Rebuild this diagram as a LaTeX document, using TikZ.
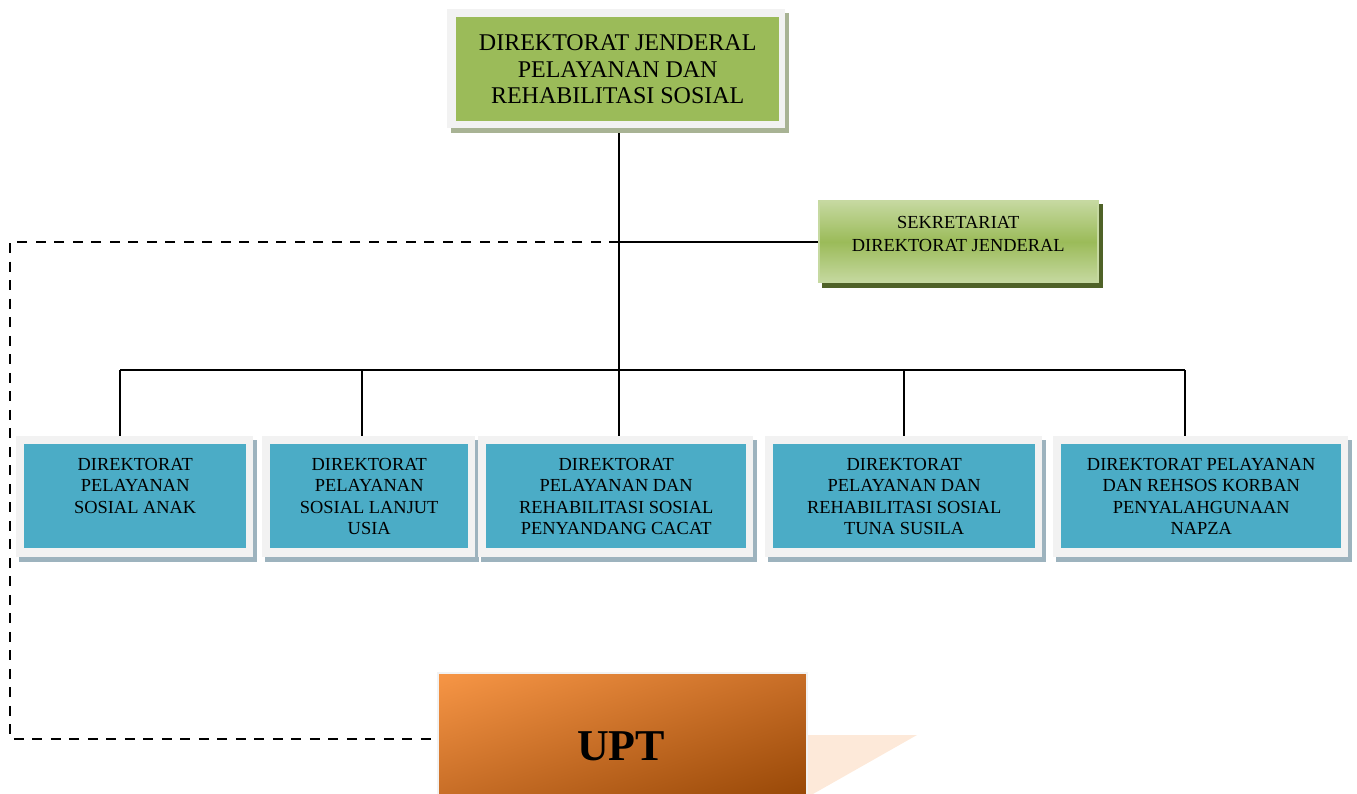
\documentclass[tikz,border=0pt]{standalone}
\usepackage{fontspec}
\setmainfont{Liberation Serif}
\usetikzlibrary{calc,shadings}
\definecolor{boxblue}{HTML}{4BACC6}
\definecolor{framegray}{HTML}{F2F2F2}
\definecolor{shblue}{HTML}{9DB3BE}
\definecolor{topgreen}{HTML}{9BBB59}
\definecolor{shgreen}{HTML}{A8B394}
\definecolor{seklight}{HTML}{C6D9A1}
\definecolor{sekdark}{HTML}{4F6228}
\definecolor{uptlight}{HTML}{F79646}
\definecolor{uptdark}{HTML}{984807}
\definecolor{uptmid}{HTML}{C86E27}
\definecolor{peach}{HTML}{FDE9D9}
\pgfdeclarelayer{lines}
\pgfdeclarelayer{back}
\pgfsetlayers{lines,back,main}
\begin{document}
\begin{tikzpicture}[x=1pt,y=-1pt,
  conn/.style={line width=1.9pt},
  dashconn/.style={line width=1.9pt, dash pattern=on 10pt off 8.5pt},
  bluebox/.style={fill=boxblue, inner sep=0pt, anchor=north west, minimum height=104pt},
  boxtext/.style={font=\fontsize{18.4}{21.5}\selectfont, align=center, inner sep=0pt, anchor=north},
  sektext/.style={font=\fontsize{18.4}{23}\selectfont, align=center, inner sep=0pt, anchor=north}]
\useasboundingbox (0,0) rectangle (1357,794);

% top box
\node[fill=topgreen, minimum width=323pt, minimum height=104pt, anchor=north west, inner sep=0pt,
      align=center, font=\fontsize{24}{26.8}\selectfont] (top) at (456,17)
  {DIREKTORAT JENDERAL\\PELAYANAN DAN\\REHABILITASI SOSIAL};

% sekretariat
\node[shade, top color=seklight, bottom color=seklight, middle color=topgreen, draw=seklight,
      line width=1.5pt, minimum width=279pt, minimum height=82pt, anchor=north west, inner sep=0pt] (sek) at (818,200) {};
\node[sektext] (sekt) at ($(sek.north)+(0,16)$) {SEKRETARIAT\\DIREKTORAT JENDERAL};

% blue boxes
\node[bluebox, minimum width=222pt] (b1) at (24,444) {};
\node[bluebox, minimum width=198pt] (b2) at (270,444) {};
\node[bluebox, minimum width=260pt] (b3) at (486,444) {};
\node[bluebox, minimum width=262pt] (b4) at (773,444) {};
\node[bluebox, minimum width=280pt] (b5) at (1061,444) {};
\node[boxtext] (t1) at ($(b1.north)+(0,14)$) {DIREKTORAT\\PELAYANAN\\SOSIAL ANAK};
\node[boxtext] (t2) at ($(b2.north)+(0,14)$) {DIREKTORAT\\PELAYANAN\\SOSIAL LANJUT\\USIA};
\node[boxtext] (t3) at ($(b3.north)+(0,14)$) {DIREKTORAT\\PELAYANAN DAN\\REHABILITASI SOSIAL\\PENYANDANG CACAT};
\node[boxtext] (t4) at ($(b4.north)+(0,14)$) {DIREKTORAT\\PELAYANAN DAN\\REHABILITASI SOSIAL\\TUNA SUSILA};
\node[boxtext] (t5) at ($(b5.north)+(0,14)$) {DIREKTORAT PELAYANAN\\DAN REHSOS KORBAN\\PENYALAHGUNAAN\\NAPZA};

% UPT
\node[upper left=uptlight, lower right=uptdark, upper right=uptmid, lower left=uptmid,
      draw=framegray, line width=2pt, minimum width=369pt, minimum height=122pt,
      anchor=north west, inner sep=0pt] (upt) at (437,672) {};
\node[font=\fontsize{44}{44}\bfseries\selectfont, inner sep=0pt, anchor=base] (uptt) at (621,760) {UPT};

% frames and shadows
\begin{pgfonlayer}{back}
  \fill[shgreen] ($(top.north west)+(-5,-4)$) rectangle ($(top.south east)+(10,12)$);
  \fill[framegray] ($(top.north west)+(-9,-8)$) rectangle ($(top.south east)+(6,7)$);
  \fill[sekdark] ($(sek.north west)+(4,4)$) rectangle ($(sek.south east)+(4,5)$);
  \foreach \i in {1,...,5}{
    \fill[shblue] ($(b\i.north west)+(-5,-4)$) rectangle ($(b\i.south east)+(11,14)$);
    \fill[framegray] ($(b\i.north west)+(-8,-8)$) rectangle ($(b\i.south east)+(7,9)$);
  }
  \fill[peach] (806,735) -- (917,735) -- (813,794) -- (806,794) -- cycle;
\end{pgfonlayer}

% connectors
\begin{pgfonlayer}{lines}
  \coordinate (hub) at (619,370);
  \coordinate (c1) at (120,370);
  \coordinate (c2) at (362,370);
  \coordinate (c4) at (904,370);
  \coordinate (c5) at (1185,370);
  \coordinate (d1) at (10,241);
  \coordinate (d2) at (10,739);
  \draw[conn] (top.south -| hub) -- (hub);
  \draw[conn] (c1) -- (c5);
  \foreach \i in {1,2,4,5}{\draw[conn] (c\i) -- (c\i |- b\i.north);}
  \draw[conn] (hub) -- (hub |- b3.north);
  \draw[conn] (hub |- sek.west) -- (sek.west);
  \draw[dashconn] (hub |- sek.west) -- (d1 |- sek.west) -- (d2) -- ($(d2 -| upt.west)+(-5,0)$);
\end{pgfonlayer}
\end{tikzpicture}
\end{document}
